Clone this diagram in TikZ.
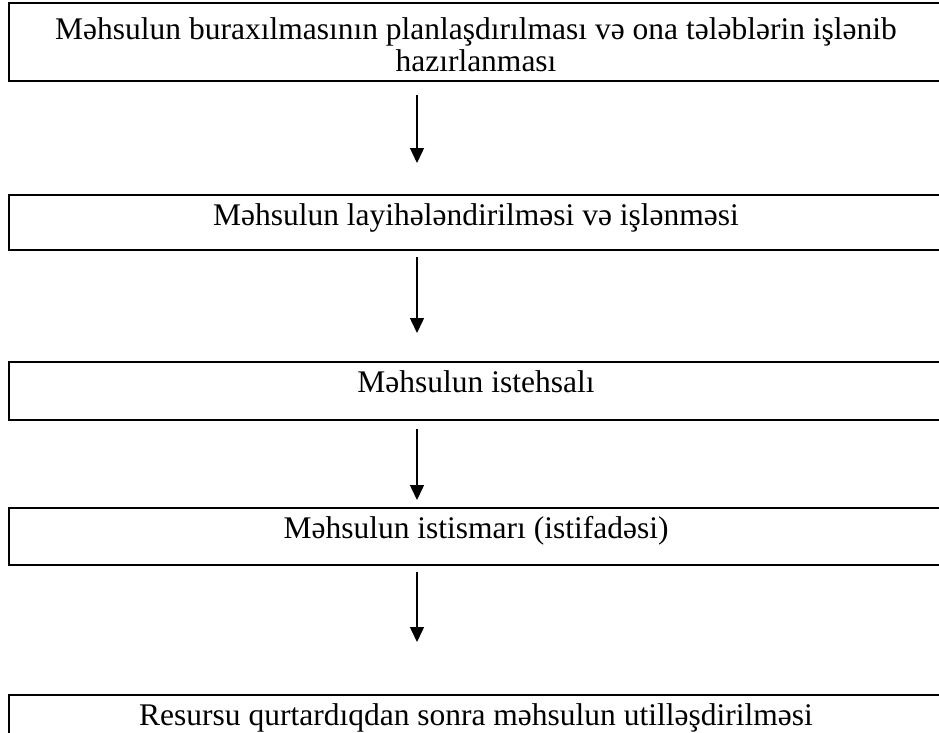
\documentclass[tikz,border=0pt]{standalone}
\usepackage{fontspec}
\setmainfont{Liberation Serif}
\usepackage{tikz}
\usetikzlibrary{positioning,arrows.meta}

\tikzset{
	blok/.style={draw,line width=2pt,minimum width=934pt,inner sep=0pt,outer sep=0pt,align=center,font=\fontsize{31.5}{32}\selectfont},
	bir/.style={blok,text height=30pt,text depth=#1},
	ox/.style={-{Triangle[length=15pt,width=14pt]},line width=1.5pt}
}

\begin{document}
\begin{tikzpicture}
		\useasboundingbox (0,0) rectangle (939pt,-733pt);
		\begin{scope}
			\node(1) [blok,text height=69pt,text depth=9pt] at (476pt,-42pt) {Məhsulun buraxılmasının planlaşdırılması və ona tələblərin işlənib\\hazırlanması};
			\node(2) [below=114pt of 1,bir=25pt] {Məhsulun layihələndirilməsi və işlənməsi};
			\node(3) [below=112pt of 2,bir=28pt] {Məhsulun istehsalı};
			\node(4) [below=88pt of 3,bir=27pt] {Məhsulun istismarı (istifadəsi)};
			\node(5) [below=130pt of 4,bir=60pt] {Resursu qurtardıqdan sonra məhsulun utilləşdirilməsi};
			\coordinate (ax) at (417pt,0);
			\draw[ox,shorten <=14pt,shorten >=32pt] (1.south -| ax) -- (2.north -| ax);
			\draw[ox,shorten <=7pt,shorten >=29pt] (2.south -| ax) -- (3.north -| ax);
			\draw[ox,shorten <=9pt,shorten >=8pt] (3.south -| ax) -- (4.north -| ax);
			\draw[ox,shorten <=7pt,shorten >=53pt] (4.south -| ax) -- (5.north -| ax);
		\end{scope}
	\end{tikzpicture}
\end{document}
